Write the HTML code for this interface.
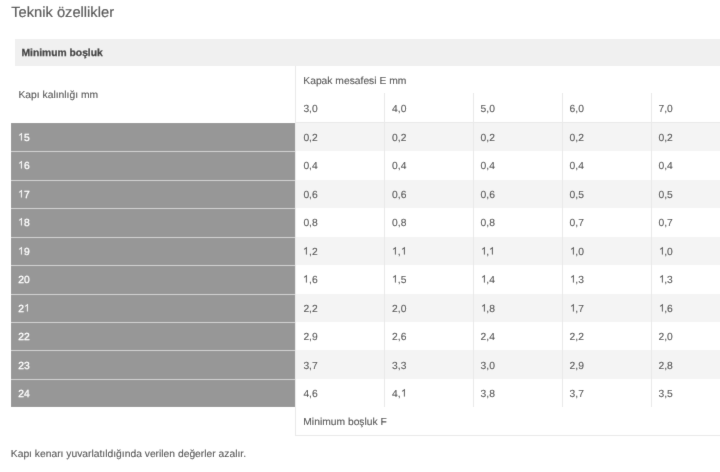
<!DOCTYPE html><html><head><meta charset="utf-8"><style>
*{margin:0;padding:0;box-sizing:border-box}
html,body{width:720px;height:472px;overflow:hidden;background:#fff}
body{position:relative;font-family:"Liberation Sans",sans-serif;color:#464646;text-rendering:geometricPrecision}
.a{position:absolute;white-space:nowrap}
#w{position:absolute;left:0;top:0;width:720px;height:472px;background:#fff;filter:url(#bl);overflow:hidden}
.t{font-size:10.3px;line-height:12px;-webkit-text-stroke:0.08px currentColor}
.w{color:#fff;-webkit-text-stroke:0.25px #fff}
.one{display:inline-block;width:0.5562em;height:0.71875em;vertical-align:0.7px;fill:currentColor;stroke:currentColor;stroke-width:16;overflow:visible}
</style></head><body><svg width="0" height="0" style="position:absolute"><filter id="bl" x="0" y="0" width="720" height="472" filterUnits="userSpaceOnUse"><feConvolveMatrix order="3" kernelMatrix="1 10 1 10 100 10 1 10 1" edgeMode="duplicate" preserveAlpha="false"/></filter></svg>
<div id="w">
<div class="a " style="left:11.2px;top:4.3px;font-size:14.7px;line-height:18px;color:#505050;-webkit-text-stroke:0.2px currentColor">Teknik özellikler</div>
<div class="a" style="left:15px;top:38.5px;width:720px;height:27px;background:#f0f0f0"></div>
<div class="a t" style="left:21.5px;top:48px;font-weight:bold;color:#3a3a3a;-webkit-text-stroke:0.25px currentColor">Minimum boşluk</div>
<div class="a t" style="left:18.5px;top:90.3px;">Kapı kalınlığı mm</div>
<div class="a t" style="left:303.3px;top:76.2px;">Kapak mesafesi E mm</div>
<div class="a t" style="left:303.4px;top:104px;">3,0</div>
<div class="a t" style="left:392.1px;top:104px;">4,0</div>
<div class="a t" style="left:480.6px;top:104px;">5,0</div>
<div class="a t" style="left:569.6px;top:104px;">6,0</div>
<div class="a t" style="left:658.5px;top:104px;">7,0</div>
<div class="a" style="left:296px;top:123px;width:424px;height:28px;background:#f4f4f4"></div>
<div class="a" style="left:296px;top:180px;width:424px;height:28px;background:#f4f4f4"></div>
<div class="a" style="left:296px;top:237px;width:424px;height:28px;background:#f4f4f4"></div>
<div class="a" style="left:296px;top:294px;width:424px;height:28px;background:#f4f4f4"></div>
<div class="a" style="left:296px;top:350px;width:424px;height:29px;background:#f4f4f4"></div>
<div class="a" style="left:295px;top:65.5px;width:1px;height:370px;background:#e9e9e9"></div>
<div class="a" style="left:295px;top:435px;width:425px;height:1px;background:#e9e9e9"></div>
<div class="a" style="left:384px;top:93px;width:1px;height:314px;background:#e9e9e9"></div>
<div class="a" style="left:473px;top:93px;width:1px;height:314px;background:#e9e9e9"></div>
<div class="a" style="left:562px;top:93px;width:1px;height:314px;background:#e9e9e9"></div>
<div class="a" style="left:651px;top:93px;width:1px;height:314px;background:#e9e9e9"></div>
<div class="a" style="left:295px;top:122px;width:425px;height:1px;background:#e9e9e9"></div>
<div class="a" style="left:11px;top:123px;width:284px;height:284px;background:#979797"></div>
<div class="a t w" style="left:18.3px;top:132.9px;"><svg class="one" viewBox="0 0 1139 1472"><path d="M763 1472H583V325L413 449L223 542V368L489 196L650 0H763Z"/></svg>5</div>
<div class="a t" style="left:303.4px;top:132.9px;">0,2</div>
<div class="a t" style="left:392.1px;top:132.9px;">0,2</div>
<div class="a t" style="left:480.6px;top:132.9px;">0,2</div>
<div class="a t" style="left:569.6px;top:132.9px;">0,2</div>
<div class="a t" style="left:658.5px;top:132.9px;">0,2</div>
<div class="a" style="left:11px;top:151px;width:284px;height:1px;background:#cfcfcf"></div>
<div class="a t w" style="left:18.3px;top:161.4px;"><svg class="one" viewBox="0 0 1139 1472"><path d="M763 1472H583V325L413 449L223 542V368L489 196L650 0H763Z"/></svg>6</div>
<div class="a t" style="left:303.4px;top:161.4px;">0,4</div>
<div class="a t" style="left:392.1px;top:161.4px;">0,4</div>
<div class="a t" style="left:480.6px;top:161.4px;">0,4</div>
<div class="a t" style="left:569.6px;top:161.4px;">0,4</div>
<div class="a t" style="left:658.5px;top:161.4px;">0,4</div>
<div class="a" style="left:11px;top:180px;width:284px;height:1px;background:#cfcfcf"></div>
<div class="a t w" style="left:18.3px;top:189.9px;"><svg class="one" viewBox="0 0 1139 1472"><path d="M763 1472H583V325L413 449L223 542V368L489 196L650 0H763Z"/></svg>7</div>
<div class="a t" style="left:303.4px;top:189.9px;">0,6</div>
<div class="a t" style="left:392.1px;top:189.9px;">0,6</div>
<div class="a t" style="left:480.6px;top:189.9px;">0,6</div>
<div class="a t" style="left:569.6px;top:189.9px;">0,5</div>
<div class="a t" style="left:658.5px;top:189.9px;">0,5</div>
<div class="a" style="left:11px;top:208px;width:284px;height:1px;background:#cfcfcf"></div>
<div class="a t w" style="left:18.3px;top:218.4px;"><svg class="one" viewBox="0 0 1139 1472"><path d="M763 1472H583V325L413 449L223 542V368L489 196L650 0H763Z"/></svg>8</div>
<div class="a t" style="left:303.4px;top:218.4px;">0,8</div>
<div class="a t" style="left:392.1px;top:218.4px;">0,8</div>
<div class="a t" style="left:480.6px;top:218.4px;">0,8</div>
<div class="a t" style="left:569.6px;top:218.4px;">0,7</div>
<div class="a t" style="left:658.5px;top:218.4px;">0,7</div>
<div class="a" style="left:11px;top:237px;width:284px;height:1px;background:#cfcfcf"></div>
<div class="a t w" style="left:18.3px;top:246.9px;"><svg class="one" viewBox="0 0 1139 1472"><path d="M763 1472H583V325L413 449L223 542V368L489 196L650 0H763Z"/></svg>9</div>
<div class="a t" style="left:303.4px;top:246.9px;"><svg class="one" viewBox="0 0 1139 1472"><path d="M763 1472H583V325L413 449L223 542V368L489 196L650 0H763Z"/></svg>,2</div>
<div class="a t" style="left:392.1px;top:246.9px;"><svg class="one" viewBox="0 0 1139 1472"><path d="M763 1472H583V325L413 449L223 542V368L489 196L650 0H763Z"/></svg>,<svg class="one" viewBox="0 0 1139 1472"><path d="M763 1472H583V325L413 449L223 542V368L489 196L650 0H763Z"/></svg></div>
<div class="a t" style="left:480.6px;top:246.9px;"><svg class="one" viewBox="0 0 1139 1472"><path d="M763 1472H583V325L413 449L223 542V368L489 196L650 0H763Z"/></svg>,<svg class="one" viewBox="0 0 1139 1472"><path d="M763 1472H583V325L413 449L223 542V368L489 196L650 0H763Z"/></svg></div>
<div class="a t" style="left:569.6px;top:246.9px;"><svg class="one" viewBox="0 0 1139 1472"><path d="M763 1472H583V325L413 449L223 542V368L489 196L650 0H763Z"/></svg>,0</div>
<div class="a t" style="left:658.5px;top:246.9px;"><svg class="one" viewBox="0 0 1139 1472"><path d="M763 1472H583V325L413 449L223 542V368L489 196L650 0H763Z"/></svg>,0</div>
<div class="a" style="left:11px;top:265px;width:284px;height:1px;background:#cfcfcf"></div>
<div class="a t w" style="left:18.3px;top:275.4px;">20</div>
<div class="a t" style="left:303.4px;top:275.4px;"><svg class="one" viewBox="0 0 1139 1472"><path d="M763 1472H583V325L413 449L223 542V368L489 196L650 0H763Z"/></svg>,6</div>
<div class="a t" style="left:392.1px;top:275.4px;"><svg class="one" viewBox="0 0 1139 1472"><path d="M763 1472H583V325L413 449L223 542V368L489 196L650 0H763Z"/></svg>,5</div>
<div class="a t" style="left:480.6px;top:275.4px;"><svg class="one" viewBox="0 0 1139 1472"><path d="M763 1472H583V325L413 449L223 542V368L489 196L650 0H763Z"/></svg>,4</div>
<div class="a t" style="left:569.6px;top:275.4px;"><svg class="one" viewBox="0 0 1139 1472"><path d="M763 1472H583V325L413 449L223 542V368L489 196L650 0H763Z"/></svg>,3</div>
<div class="a t" style="left:658.5px;top:275.4px;"><svg class="one" viewBox="0 0 1139 1472"><path d="M763 1472H583V325L413 449L223 542V368L489 196L650 0H763Z"/></svg>,3</div>
<div class="a" style="left:11px;top:294px;width:284px;height:1px;background:#cfcfcf"></div>
<div class="a t w" style="left:18.3px;top:303.9px;">2<svg class="one" viewBox="0 0 1139 1472"><path d="M763 1472H583V325L413 449L223 542V368L489 196L650 0H763Z"/></svg></div>
<div class="a t" style="left:303.4px;top:303.9px;">2,2</div>
<div class="a t" style="left:392.1px;top:303.9px;">2,0</div>
<div class="a t" style="left:480.6px;top:303.9px;"><svg class="one" viewBox="0 0 1139 1472"><path d="M763 1472H583V325L413 449L223 542V368L489 196L650 0H763Z"/></svg>,8</div>
<div class="a t" style="left:569.6px;top:303.9px;"><svg class="one" viewBox="0 0 1139 1472"><path d="M763 1472H583V325L413 449L223 542V368L489 196L650 0H763Z"/></svg>,7</div>
<div class="a t" style="left:658.5px;top:303.9px;"><svg class="one" viewBox="0 0 1139 1472"><path d="M763 1472H583V325L413 449L223 542V368L489 196L650 0H763Z"/></svg>,6</div>
<div class="a" style="left:11px;top:322px;width:284px;height:1px;background:#cfcfcf"></div>
<div class="a t w" style="left:18.3px;top:332.4px;">22</div>
<div class="a t" style="left:303.4px;top:332.4px;">2,9</div>
<div class="a t" style="left:392.1px;top:332.4px;">2,6</div>
<div class="a t" style="left:480.6px;top:332.4px;">2,4</div>
<div class="a t" style="left:569.6px;top:332.4px;">2,2</div>
<div class="a t" style="left:658.5px;top:332.4px;">2,0</div>
<div class="a" style="left:11px;top:350px;width:284px;height:1px;background:#cfcfcf"></div>
<div class="a t w" style="left:18.3px;top:360.9px;">23</div>
<div class="a t" style="left:303.4px;top:360.9px;">3,7</div>
<div class="a t" style="left:392.1px;top:360.9px;">3,3</div>
<div class="a t" style="left:480.6px;top:360.9px;">3,0</div>
<div class="a t" style="left:569.6px;top:360.9px;">2,9</div>
<div class="a t" style="left:658.5px;top:360.9px;">2,8</div>
<div class="a" style="left:11px;top:379px;width:284px;height:1px;background:#cfcfcf"></div>
<div class="a t w" style="left:18.3px;top:389.4px;">24</div>
<div class="a t" style="left:303.4px;top:389.4px;">4,6</div>
<div class="a t" style="left:392.1px;top:389.4px;">4,<svg class="one" viewBox="0 0 1139 1472"><path d="M763 1472H583V325L413 449L223 542V368L489 196L650 0H763Z"/></svg></div>
<div class="a t" style="left:480.6px;top:389.4px;">3,8</div>
<div class="a t" style="left:569.6px;top:389.4px;">3,7</div>
<div class="a t" style="left:658.5px;top:389.4px;">3,5</div>
<div class="a t" style="left:303.3px;top:416.5px;">Minimum boşluk F</div>
<div class="a t" style="left:10.8px;top:448.5px;">Kapı kenarı yuvarlatıldığında verilen değerler azalır.</div>
</div></body></html>
